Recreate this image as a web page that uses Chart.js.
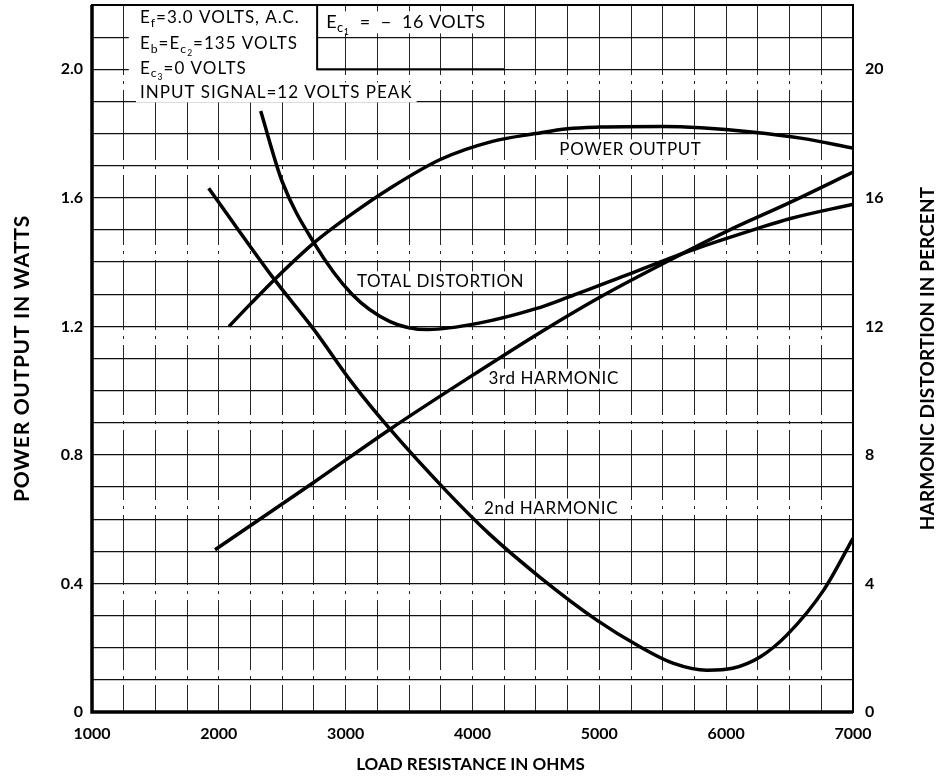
<!DOCTYPE html>
<html>
<head>
<meta charset="utf-8">
<title>Power output and distortion vs load resistance</title>
<script src="https://cdn.jsdelivr.net/npm/chart.js@4.4.1/dist/chart.umd.min.js"></script>
<style>
  html, body { margin: 0; padding: 0; background: #fff; }
  #wrap { width: 941px; height: 781px; }
</style>
</head>
<body>
<div id="wrap"><canvas id="tubeChart" width="941" height="781"></canvas></div>
<script>
// curves, x = load resistance in ohms
const powerOhms  = [2080, 2250, 2450, 2750, 3050, 3350, 3750, 4150, 4500, 4750, 5000, 5500, 5800, 6200, 6600, 7000];
const powerWatts = [1.20, 1.27, 1.35, 1.46, 1.55, 1.63, 1.72, 1.775, 1.80, 1.815, 1.82, 1.822, 1.818, 1.805, 1.785, 1.755];

const totalOhms = [2330, 2500, 2750, 3050, 3350, 3650, 4050, 4500, 4750, 5250, 5750, 6250, 6500, 7000];
const totalPct  = [18.7, 16.5, 14.6, 13.0, 12.15, 11.9, 12.1, 12.55, 12.9, 13.65, 14.4, 15.05, 15.35, 15.8];

const thirdOhms = [1970, 2750, 3350, 3950, 4550, 5000, 5500, 6000, 6500, 7000];
const thirdPct  = [5.05, 7.15, 8.8, 10.35, 11.85, 12.9, 13.95, 14.95, 15.85, 16.8];

const secondOhms = [1920, 2430, 2750, 3050, 3350, 3800, 4130, 4530, 4980, 5320, 5580, 5850, 6050, 6270, 6480, 6770, 7000];
const secondPct  = [16.3, 13.5, 11.9, 10.25, 8.8, 6.85, 5.55, 4.2, 2.86, 2.03, 1.52, 1.3, 1.36, 1.72, 2.4, 3.8, 5.4];

// axis texts
const xTitle = 'LOAD RESISTANCE IN OHMS';
const yTitle = 'POWER OUTPUT IN WATTS';
const y2Title = 'HARMONIC DISTORTION IN PERCENT';

// labels written on the curves (x in ohms, y in percent)
const curveLabels = [
  { text: 'POWER OUTPUT', x: 5245, y: 17.51 },
  { text: 'TOTAL DISTORTION', x: 3748, y: 13.4 },
  { text: '3rd HARMONIC', x: 4640, y: 10.37 },
  { text: '2nd HARMONIC', x: 4620, y: 6.33 }
];

// operating conditions, [text, level] where level 1 = subscript, 2 = sub-subscript
const conditionLines = [
  [['E', 0], ['f', 1], ['=3.0 VOLTS, A.C.', 0]],
  [['E', 0], ['b', 1], ['=E', 0], ['c', 1], ['2', 2], ['=135 VOLTS', 0]],
  [['E', 0], ['c', 1], ['3', 2], ['=0 VOLTS', 0]],
  [['INPUT SIGNAL=12 VOLTS PEAK', 0]]
];
const conditionRows = [21.6, 20.8, 20.03, 19.28];
const gridBias = [['E', 0], ['c', 1], ['1', 2], ['  =  \u2212  16 VOLTS', 0]];

const FONT = 'Lato, "DejaVu Sans", sans-serif';

function richPart(size, lvl) {
  if (lvl === 1) return { s: size * 0.72, dy: size * 0.3 };
  if (lvl === 2) return { s: size * 0.5, dy: size * 0.55 };
  return { s: size, dy: 0 };
}

function measureRich(ctx, parts, size) {
  let w = 0;
  parts.forEach(([txt, lvl]) => {
    ctx.font = richPart(size, lvl).s + 'px ' + FONT;
    w += ctx.measureText(txt).width;
  });
  return w;
}

function drawRich(ctx, parts, x, y, size) {
  let cx = x;
  parts.forEach(([txt, lvl]) => {
    const p = richPart(size, lvl);
    ctx.font = p.s + 'px ' + FONT;
    ctx.fillText(txt, cx, y + p.dy);
    cx += ctx.measureText(txt).width;
  });
}

// draw one axis title, rotated or not
function axisTitle(ctx, text, x, y, size, spacing, angle) {
  ctx.save();
  ctx.translate(x, y);
  ctx.rotate(angle);
  ctx.letterSpacing = spacing + 'px';
  ctx.textAlign = 'center';
  ctx.textBaseline = 'middle';
  ctx.fillStyle = '#000';
  ctx.font = 'bold ' + size + 'px ' + FONT;
  ctx.fillText(text, 0, 0);
  ctx.restore();
}

const notes = {
  id: 'notes',
  beforeDatasetsDraw(chart) {
    const { ctx, scales: { x, y2 } } = chart;
    ctx.save();
    ctx.textBaseline = 'middle';
    ctx.letterSpacing = '1px';

    // white patch behind the operating conditions
    const bx = x.getPixelForValue(1290), bxr = x.getPixelForValue(2775);
    const top = chart.chartArea.top;
    ctx.fillStyle = '#fff';
    ctx.fillRect(bx, top + 1, bxr - bx, y2.getPixelForValue(19.1) - top);
    const cx = x.getPixelForValue(1378);
    conditionLines.forEach((parts, i) => {
      const py = y2.getPixelForValue(conditionRows[i]);
      const w = measureRich(ctx, parts, 17);
      ctx.fillStyle = '#fff';
      ctx.fillRect(cx - 4, py - 10, w + 8, 20);
      ctx.fillStyle = '#000';
      ctx.textAlign = 'left';
      drawRich(ctx, parts, cx, py, 17);
    });

    // grid bias box
    const gx = x.getPixelForValue(2775), gxr = x.getPixelForValue(4250);
    const gy = y2.getPixelForValue(20);
    ctx.strokeStyle = '#000';
    ctx.lineWidth = 2;
    ctx.beginPath();
    ctx.moveTo(gx, top);
    ctx.lineTo(gx, gy);
    ctx.lineTo(gxr, gy);
    ctx.stroke();
    const gty = y2.getPixelForValue(21.46);
    ctx.letterSpacing = '0.5px';
    const gw = measureRich(ctx, gridBias, 18);
    ctx.fillStyle = '#fff';
    ctx.fillRect(gx + 5, gty - 11, gw + 8, 22);
    ctx.fillStyle = '#000';
    drawRich(ctx, gridBias, gx + 9, gty, 18);

    // curve names
    ctx.textAlign = 'center';
    ctx.letterSpacing = '0.6px';
    ctx.font = '17px ' + FONT;
    curveLabels.forEach(l => {
      const px = x.getPixelForValue(l.x), py = y2.getPixelForValue(l.y);
      const w = ctx.measureText(l.text).width;
      ctx.fillStyle = '#fff';
      ctx.fillRect(px - w / 2 - 6, py - 10, w + 12, 20);
      ctx.fillStyle = '#000';
      ctx.fillText(l.text, px, py);
    });
    ctx.restore();
  },
  afterDraw(chart) {
    const { ctx, chartArea: a } = chart;
    ctx.save();
    ctx.strokeStyle = '#000';
    ctx.lineWidth = 2;
    ctx.strokeRect(a.left, a.top, a.right - a.left, a.bottom - a.top);
    ctx.lineWidth = 3.5;
    ctx.beginPath();
    ctx.moveTo(a.left, a.top);
    ctx.lineTo(a.left, a.bottom);
    ctx.lineTo(a.right, a.bottom);
    ctx.stroke();
    ctx.restore();

    const midY = (a.top + a.bottom) / 2;
    axisTitle(ctx, yTitle, 22, midY, 21, 0.7, -Math.PI / 2);
    axisTitle(ctx, y2Title, 928, midY, 19, 0.1, -Math.PI / 2);
    axisTitle(ctx, xTitle, (a.left + a.right) / 2 - 2, 765, 17, 0, 0);
  }
};

const pairs = (xs, ys) => xs.map((v, i) => ({ x: v, y: ys[i] }));
const curve = {
  borderColor: '#000',
  borderWidth: 3.5,
  pointRadius: 0,
  fill: false,
  cubicInterpolationMode: 'monotone'
};
const tickFont = { family: FONT, size: 16, weight: 'bold' };
const noPad = s => { s.paddingTop = 0; s.paddingBottom = 0; s.paddingLeft = 0; s.paddingRight = 0; };

const ctx = document.getElementById('tubeChart').getContext('2d');
new Chart(ctx, {
  type: 'line',
  data: {
    datasets: [
      { label: 'Power output', data: pairs(powerOhms, powerWatts), yAxisID: 'y', ...curve },
      { label: 'Total distortion', data: pairs(totalOhms, totalPct), yAxisID: 'y2', ...curve },
      { label: '3rd harmonic', data: pairs(thirdOhms, thirdPct), yAxisID: 'y2', ...curve },
      { label: '2nd harmonic', data: pairs(secondOhms, secondPct), yAxisID: 'y2', ...curve }
    ]
  },
  options: {
    responsive: false,
    animation: false,
    layout: { padding: { top: 5, left: 0, right: 0, bottom: 0 } },
    plugins: { legend: { display: false }, tooltip: { enabled: false } },
    scales: {
      x: {
        type: 'linear',
        min: 1000,
        max: 7000,
        // vertical rules on the plate are broken up, so dash them a little
        grid: { color: '#262626', lineWidth: 1, drawTicks: false },
        border: { display: false, dash: [70, 6, 3, 6] },
        ticks: {
          stepSize: 250, autoSkip: false, maxRotation: 0, padding: 12,
          color: '#000', font: tickFont,
          callback: v => (v % 1000 === 0 ? String(v) : '')
        },
        afterFit: s => { s.height = 69; noPad(s); }
      },
      y: {
        position: 'left',
        min: 0,
        max: 2.2,
        grid: { color: '#111', lineWidth: 1.2, drawTicks: false },
        border: { display: false },
        ticks: {
          stepSize: 0.1, autoSkip: false, padding: 9,
          color: '#000', font: tickFont,
          callback: v => {
            const t = Math.round(v * 10);
            if (t % 4 !== 0) return '';
            return t === 0 ? '0' : (t / 10).toFixed(1);
          }
        },
        afterFit: s => { s.width = 92; noPad(s); }
      },
      y2: {
        position: 'right',
        min: 0,
        max: 22,
        grid: { display: false, drawTicks: false },
        border: { display: false },
        ticks: {
          stepSize: 2, autoSkip: false, padding: 12,
          color: '#000', font: tickFont,
          callback: v => (v % 4 === 0 ? String(v) : '')
        },
        afterFit: s => { s.width = 88; noPad(s); }
      }
    }
  },
  plugins: [notes]
});
</script>
</body>
</html>
